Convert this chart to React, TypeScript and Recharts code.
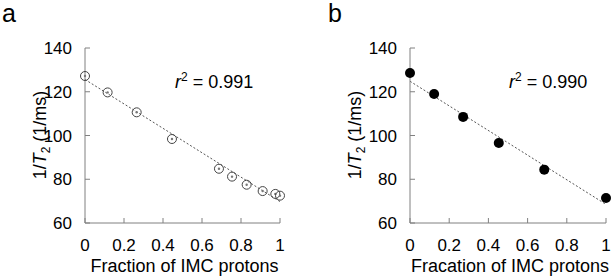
import React from "react";
import {
  ComposedChart,
  Scatter,
  XAxis,
  YAxis,
  ReferenceLine,
  Customized,
} from "recharts";

// ---------------------------------------------------------------------------
// Data
// ---------------------------------------------------------------------------

const X_TICKS = [0, 0.2, 0.4, 0.6, 0.8, 1];
const Y_TICKS = [60, 80, 100, 120, 140];

// panel a: open circles
const FRACTION_A = [0, 0.116, 0.265, 0.446, 0.687, 0.754, 0.829, 0.911, 0.976, 1.0];
const RATE_A = [127.2, 119.7, 110.6, 98.4, 84.8, 81.2, 77.5, 74.6, 73.3, 72.5];
const FIT_X = [0, 1];
const FIT_A = [125.6, 69.8];
const R2_A = "0.991";
const X_TITLE_A = "Fraction of IMC protons";

// panel b: filled circles
const FRACTION_B = [0, 0.123, 0.271, 0.453, 0.685, 1.0];
const RATE_B = [128.6, 119.0, 108.5, 96.6, 84.4, 71.4];
const FIT_B = [124.8, 68.5];
const R2_B = "0.990";
const X_TITLE_B = "Fracation of IMC protons";

const FONT = '"Liberation Sans", Arial, Helvetica, sans-serif';
const AXIS_GREY = "#808080";

// ---------------------------------------------------------------------------
// Markers
// ---------------------------------------------------------------------------

function OpenMarker(props: any) {
  const { cx, cy } = props;
  return (
    <g>
      <circle cx={cx} cy={cy} r={4.5} fill="none" stroke="#444" strokeWidth={1} />
      <circle cx={cx} cy={cy} r={1.2} fill="#777" />
    </g>
  );
}

function FilledMarker(props: any) {
  const { cx, cy } = props;
  return <circle cx={cx} cy={cy} r={5} fill="#000" />;
}

// ---------------------------------------------------------------------------
// Panel
// ---------------------------------------------------------------------------

interface PanelProps {
  letter: string;
  letterX: number;
  xs: number[];
  ys: number[];
  fit: number[];
  r2: string;
  r2X: number;
  xTitle: string;
  width: number;
  yAxisWidth: number;
  rightMargin: number;
  yTitleX: number;
  filled: boolean;
}

function Panel(p: PanelProps) {
  const data = p.xs.map((x, i) => ({ x, y: p.ys[i] }));
  const plotLeft = p.yAxisWidth;
  const plotRight = p.width - p.rightMargin;
  const midX = (plotLeft + plotRight) / 2 + 2;

  const annotations = () => (
    <g fontFamily={FONT} fill="#000">
      <text x={p.letterX} y={22} fontSize={25}>
        {p.letter}
      </text>
      <text x={p.r2X} y={88} fontSize={18}>
        <tspan fontStyle="italic">r</tspan>
        <tspan dy={-7} fontSize={12}>2</tspan>
        <tspan dy={7}> = {p.r2}</tspan>
      </text>
      <text x={midX} y={272} fontSize={18} textAnchor="middle">
        {p.xTitle}
      </text>
      <text
        transform={`translate(${p.yTitleX},135) rotate(-90)`}
        fontSize={18}
        textAnchor="middle"
      >
        1/<tspan fontStyle="italic">T</tspan>
        <tspan dy={4} fontSize={12}>2</tspan>
        <tspan dy={-4}> (1/ms)</tspan>
      </text>
    </g>
  );

  return (
    <ComposedChart
      width={p.width}
      height={278}
      margin={{ top: 48, right: p.rightMargin, bottom: 0, left: 0 }}
    >
      <XAxis
        dataKey="x"
        type="number"
        domain={[0, 1]}
        ticks={X_TICKS}
        interval={0}
        height={55}
        tickSize={-5}
        tickMargin={21}
        axisLine={{ stroke: AXIS_GREY }}
        tickLine={{ stroke: AXIS_GREY }}
        tick={{ fontSize: 17, fill: "#000", fontFamily: FONT }}
      />
      <YAxis
        dataKey="y"
        type="number"
        domain={[60, 140]}
        ticks={Y_TICKS}
        interval={0}
        width={p.yAxisWidth}
        tickSize={-5}
        tickMargin={18}
        axisLine={{ stroke: AXIS_GREY }}
        tickLine={{ stroke: AXIS_GREY }}
        tick={{ fontSize: 17, fill: "#000", fontFamily: FONT }}
      />
      <ReferenceLine
        segment={[
          { x: FIT_X[0], y: p.fit[0] },
          { x: FIT_X[1], y: p.fit[1] },
        ]}
        stroke="#555"
        strokeDasharray="2 2"
        strokeWidth={1}
        ifOverflow="visible"
      />
      <Scatter
        data={data}
        isAnimationActive={false}
        shape={p.filled ? <FilledMarker /> : <OpenMarker />}
      />
      <Customized component={annotations} />
    </ComposedChart>
  );
}

// ---------------------------------------------------------------------------
// App
// ---------------------------------------------------------------------------

export default function App() {
  return (
    <div style={styles.page}>
      <div style={{ position: "absolute", left: 0, top: 0 }}>
        <Panel
          letter="a"
          letterX={2}
          xs={FRACTION_A}
          ys={RATE_A}
          fit={FIT_A}
          r2={R2_A}
          r2X={175}
          xTitle={X_TITLE_A}
          width={305}
          yAxisWidth={85}
          rightMargin={25}
          yTitleX={46}
          filled={false}
        />
      </div>
      <div style={{ position: "absolute", left: 305, top: 0 }}>
        <Panel
          letter="b"
          letterX={23}
          xs={FRACTION_B}
          ys={RATE_B}
          fit={FIT_B}
          r2={R2_B}
          r2X={204}
          xTitle={X_TITLE_B}
          width={306}
          yAxisWidth={105}
          rightMargin={5}
          yTitleX={56}
          filled={true}
        />
      </div>
    </div>
  );
}

const styles = {
  page: {
    position: "absolute",
    left: 0,
    top: 0,
    width: 611,
    height: 278,
    background: "#fff",
    overflow: "hidden",
  } as React.CSSProperties,
};
